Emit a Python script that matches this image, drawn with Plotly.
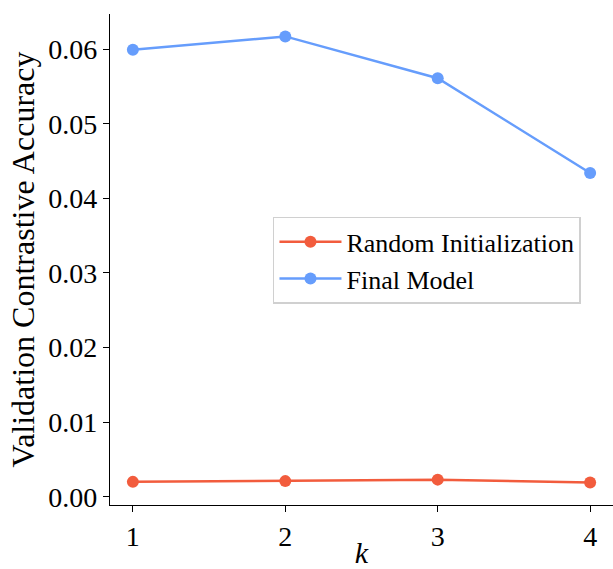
import plotly.graph_objects as go

k_values = [1, 2, 3, 4]
random_init = [0.0020, 0.0021, 0.0023, 0.0019]
final_model = [0.0599, 0.0617, 0.0561, 0.0434]
y_ticks = [0.00, 0.01, 0.02, 0.03, 0.04, 0.05, 0.06]
y_tick_labels = ["0.00", "0.01", "0.02", "0.03", "0.04", "0.05", "0.06"]

RED = "#f25c3d"
BLUE = "#669dfc"
FONT = "Liberation Serif"

fig = go.Figure()
fig.add_trace(go.Scatter(x=k_values, y=random_init, mode="lines+markers",
                         name="Random Initialization",
                         line=dict(color=RED, width=2.5),
                         marker=dict(color=RED, size=12)))
fig.add_trace(go.Scatter(x=k_values, y=final_model, mode="lines+markers",
                         name="Final Model",
                         line=dict(color=BLUE, width=2.5),
                         marker=dict(color=BLUE, size=12)))

fig.update_layout(
    width=613, height=569,
    margin=dict(l=110, r=0, t=14, b=64),
    plot_bgcolor="white", paper_bgcolor="white",
    font=dict(family=FONT, size=26, color="black"),
    showlegend=True,
    legend=dict(x=0.324, y=0.587, xanchor="left", yanchor="top",
                bgcolor="rgba(255,255,255,0.8)", bordercolor="#d0d0d0",
                borderwidth=1.5, font=dict(family=FONT, size=26),
                itemwidth=62, tracegroupgap=0),
    xaxis=dict(range=[0.85, 4.15], tickvals=k_values,
               ticktext=[str(v) for v in k_values],
               automargin=False,
               showgrid=False, zeroline=False, showline=True,
               linecolor="black", linewidth=1.3, ticks="outside",
               ticklen=6, tickwidth=1, tickcolor="black",
               tickfont=dict(size=28),
               title=dict(text="<i>k</i>", font=dict(size=30), standoff=2)),
    yaxis=dict(range=[-0.0011, 0.0647], tickvals=y_ticks, ticktext=y_tick_labels,
               automargin=False,
               showgrid=False, zeroline=False, showline=True,
               linecolor="black", linewidth=1.3, ticks="outside",
               ticklen=6, tickwidth=1, tickcolor="black",
               tickfont=dict(size=28),
               title=dict(text="Validation Contrastive Accuracy", font=dict(size=32), standoff=4)),
)

fig.write_html("out.html",
               config={"displayModeBar": False},
               post_script="document.body.style.margin='0';document.body.style.padding='0';")
